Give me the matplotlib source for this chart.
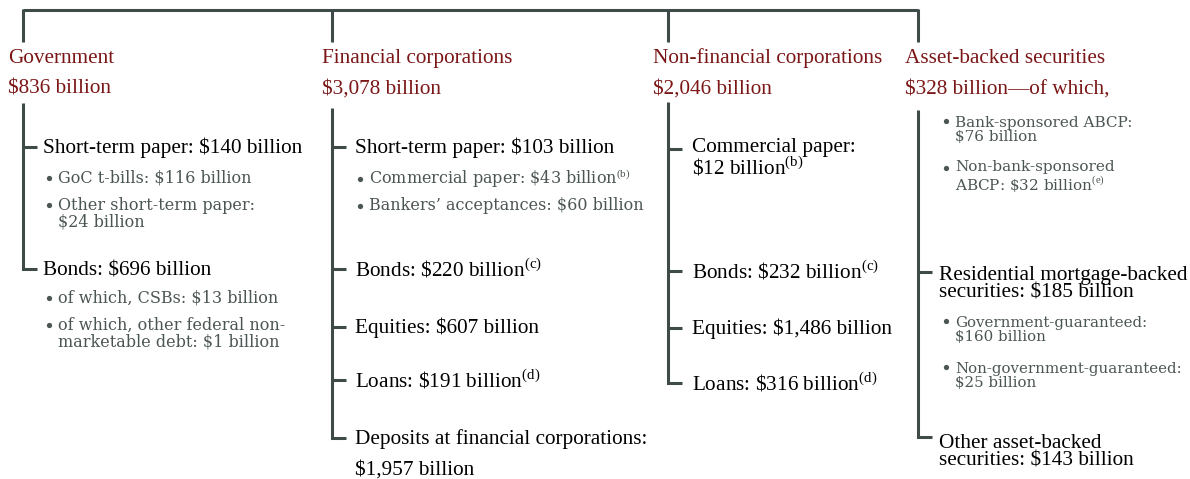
import matplotlib.pyplot as plt

plt.rcParams['font.family'] = ['Liberation Serif', 'DejaVu Serif']
plt.rcParams['mathtext.fontset'] = 'custom'
plt.rcParams['mathtext.rm'] = 'Liberation Serif'

LINE = '#3f4b48'
RED = '#7b1616'
GREY = '#4b5654'

# sector headings
sectors = ['Government', 'Financial corporations',
           'Non-financial corporations', 'Asset-backed securities']
totals = ['$836 billion', '$3,078 billion', '$2,046 billion',
          '$328 billion\u2014of which,']

# main items per sector (text may span two lines)
gov_items = ['Short-term paper: $140 billion', 'Bonds: $696 billion']
gov_bullets = [['GoC t-bills: $116 billion', 'Other short-term paper:\n$24 billion'],
               ['of which, CSBs: $13 billion',
                'of which, other federal non-\nmarketable debt: $1 billion']]
fin_items = ['Short-term paper: $103 billion',
             r'Bonds: \$220 billion$^{\mathrm{(c)}}$',
             'Equities: $607 billion',
             r'Loans: \$191 billion$^{\mathrm{(d)}}$',
             'Deposits at financial corporations:']
fin_bullets = [r'Commercial paper: \$43 billion$^{\mathrm{(b)}}$',
               'Bankers\u2019 acceptances: $60 billion']
fin_tail = '$1,957 billion'
nonfin_items = ['Commercial paper:\n' + r'\$12 billion$^{\mathrm{(b)}}$',
                r'Bonds: \$232 billion$^{\mathrm{(c)}}$',
                'Equities: $1,486 billion',
                r'Loans: \$316 billion$^{\mathrm{(d)}}$']
abs_bullets_top = ['Bank-sponsored ABCP:\n$76 billion',
                   r'Non-bank-sponsored' + '\n' + r'ABCP: \$32 billion$^{\mathrm{(e)}}$']
abs_items = ['Residential mortgage-backed\nsecurities: $185 billion',
             'Other asset-backed\nsecurities: $143 billion']
abs_bullets = ['Government-guaranteed:\n$160 billion',
               'Non-government-guaranteed:\n$25 billion']

fig = plt.figure(figsize=(11.9, 4.79), dpi=100)
ax = fig.add_axes([0, 0, 1, 1])
ax.set_xlim(0, 1190)
ax.set_ylim(479, 0)
ax.axis('off')

lw = 2.2
MAIN = 15.3


def line(xs, ys):
    ax.plot(xs, ys, color=LINE, lw=lw, solid_joinstyle='miter', solid_capstyle='butt')


def main(x, y, s):
    ax.text(x, y, s, fontsize=MAIN, color='black', va='center', ha='left', linespacing=0.92)


def bullet(x, y, s, size=11.5):
    # y is the centre of the first line
    n = s.count('\n') + 1
    ax.plot([x + 2], [y], 'o', ms=3.8, color=GREY, mec='none')
    ax.text(x + 11, y + (n - 1) * 8.8, s, fontsize=size, color=GREY, va='center',
            ha='left', linespacing=1.0, family='DejaVu Serif')


# top connector
col_x = [23, 332, 668, 918]
head_x = [8, 322, 653, 905]
line([col_x[0], col_x[-1]], [10, 10])
for cx in col_x:
    line([cx, cx], [9, 42])
for hx, s, t in zip(head_x, sectors, totals):
    ax.text(hx, 58, s, fontsize=MAIN, color=RED, va='center', ha='left')
    ax.text(hx, 89, t, fontsize=MAIN, color=RED, va='center', ha='left')

# Government
cx = col_x[0]
line([cx, cx, 37], [103, 269, 269])
line([cx, 37], [147, 147])
main(43, 148, gov_items[0])
bullet(47, 178, gov_bullets[0][0])
bullet(47, 205, gov_bullets[0][1])
main(43, 271, gov_items[1])
bullet(47, 298, gov_bullets[1][0])
bullet(47, 325, gov_bullets[1][1])

# Financial corporations
cx = col_x[1]
ys = [147, 269, 327, 380, 438]
line([cx, cx, 346], [108, ys[-1], ys[-1]])
for y in ys[:-1]:
    line([cx, 346], [y, y])
for y, s in zip(ys, fin_items):
    main(355, y + 1, s)
bullet(358, 179, fin_bullets[0])
bullet(358, 206, fin_bullets[1])
main(355, 470, fin_tail)

# Non-financial corporations
cx = col_x[2]
ys = [149, 271, 328, 383]
line([cx, cx, 682], [102, ys[-1], ys[-1]])
for y in ys[:-1]:
    line([cx, 682], [y, y])
main(692, 159, nonfin_items[0])
for y, s in zip(ys[1:], nonfin_items[1:]):
    main(692, y + 1, s)

# Asset-backed securities
cx = col_x[3]
line([cx, cx, 932], [110, 437, 437])
line([cx, 932], [272, 272])
bullet(944, 121, abs_bullets_top[0], 11)
bullet(944, 168, abs_bullets_top[1], 11)
main(939, 284, abs_items[0])
bullet(944, 321, abs_bullets[0], 10.8)
bullet(944, 367, abs_bullets[1], 10.8)
main(939, 452, abs_items[1])

fig.savefig('out.png', dpi=100)
